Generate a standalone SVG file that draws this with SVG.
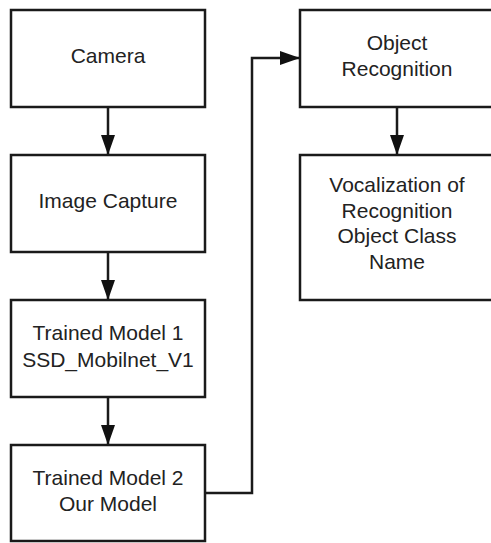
<svg xmlns="http://www.w3.org/2000/svg" width="491" height="543" viewBox="0 0 491 543">
<style>
.box{fill:#fff;stroke:#1a1a1a;stroke-width:2.5}
.t{font-family:"Liberation Sans",Arial,sans-serif;font-size:21px;fill:#222;text-anchor:middle}
.c{fill:none;stroke:#1a1a1a;stroke-width:2.5}
</style>
<defs>
<marker id="ah" markerWidth="20" markerHeight="14" refX="20" refY="7" orient="auto" markerUnits="userSpaceOnUse">
<path d="M0,0 L20,7 L0,14 Z" fill="#111"/>
</marker>
</defs>
<rect width="491" height="543" fill="#fff"/>
<g id="connectors">
<line class="c" x1="108" y1="107" x2="108" y2="155" marker-end="url(#ah)"/>
<line class="c" x1="108" y1="252" x2="108" y2="300" marker-end="url(#ah)"/>
<line class="c" x1="108" y1="397" x2="108" y2="445" marker-end="url(#ah)"/>
<polyline class="c" points="205,493 252,493 252,58 300,58" marker-end="url(#ah)"/>
<line class="c" x1="397" y1="107" x2="397" y2="155" marker-end="url(#ah)"/>
</g>
<g id="camera">
<rect class="box" x="11" y="10" width="194" height="97"/>
<text class="t" x="108" y="63">Camera</text>
</g>
<g id="image-capture">
<rect class="box" x="11" y="155" width="194" height="97"/>
<text class="t" x="108" y="208">Image Capture</text>
</g>
<g id="trained-model-1">
<rect class="box" x="11" y="300" width="194" height="97"/>
<text class="t" x="108" y="340">Trained Model 1</text>
<text class="t" x="108" y="367">SSD_Mobilnet_V1</text>
</g>
<g id="trained-model-2">
<rect class="box" x="11" y="445" width="194" height="96"/>
<text class="t" x="108" y="485">Trained Model 2</text>
<text class="t" x="108" y="511">Our Model</text>
</g>
<g id="object-recognition">
<rect class="box" x="300" y="10" width="194" height="97"/>
<text class="t" x="397" y="50">Object</text>
<text class="t" x="397" y="76">Recognition</text>
</g>
<g id="vocalization">
<rect class="box" x="300" y="155" width="194" height="145"/>
<text class="t" x="397" y="192">Vocalization of</text>
<text class="t" x="397" y="218">Recognition</text>
<text class="t" x="397" y="243">Object Class</text>
<text class="t" x="397" y="269">Name</text>
</g>
</svg>
